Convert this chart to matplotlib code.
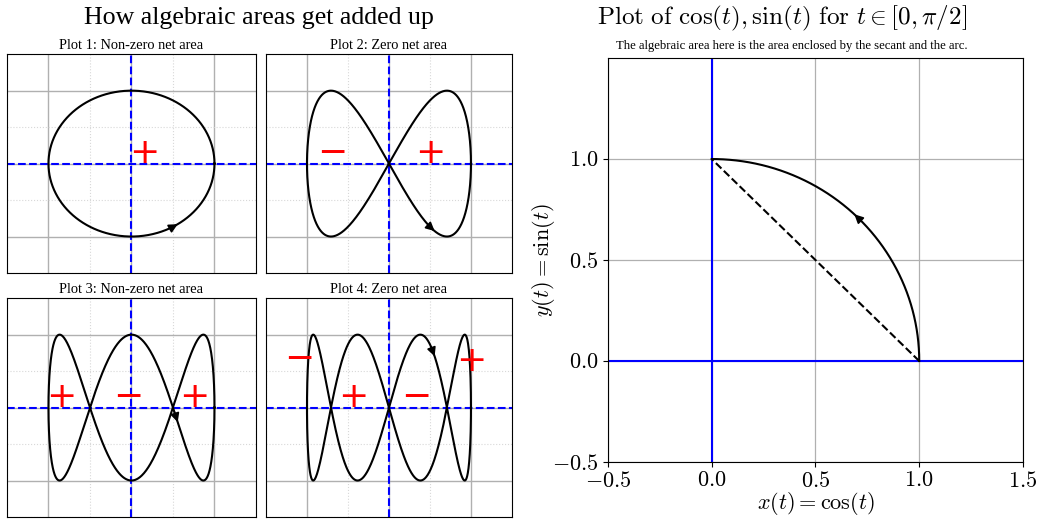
import numpy as np
import matplotlib
matplotlib.use("Agg")
import matplotlib.pyplot as plt
from matplotlib.ticker import MultipleLocator

plt.rcParams['font.family'] = ['Liberation Serif', 'DejaVu Serif']
plt.rcParams['mathtext.fontset'] = 'cm'

# frequencies of y(t) = sin(k t) against x(t) = cos(t)
freqs = [1, 2, 3, 4]
titles = ["Plot 1: Non-zero net area", "Plot 2: Zero net area",
          "Plot 3: Non-zero net area", "Plot 4: Zero net area"]

# sign labels for the loops in each small plot
sign_x = [[0.16], [-0.69, 0.50], [-0.85, -0.04, 0.76], [-1.09, -0.44, 0.33, 1.01]]
sign_y = [[0.15], [0.15, 0.15], [0.14, 0.14, 0.14], [0.66, 0.14, 0.14, 0.64]]
sign_txt = [["+"], ["\u2212", "+"], ["+", "\u2212", "+"], ["\u2212", "+", "\u2212", "+"]]

# fraction of the period where the direction arrow sits
arrow_frac = 5 / 6

# quarter circle plot
arc_t = np.linspace(0, np.pi / 2, 200)
secant_x = [1.0, 0.0]
secant_y = [0.0, 1.0]
right_xticks = [-0.5, 0.0, 0.5, 1.0, 1.5]
right_yticks = [-0.5, 0.0, 0.5, 1.0]

fig = plt.figure(figsize=(10.41, 5.21), dpi=100)

small_pos = [
    [0.0067, 0.476, 0.2392, 0.420],
    [0.2555, 0.476, 0.2363, 0.420],
    [0.0067, 0.0077, 0.2392, 0.420],
    [0.2555, 0.0077, 0.2363, 0.420],
]

t = np.linspace(0, 2 * np.pi, 1200)
for k, pos, title, sx, sy, st in zip(freqs, small_pos, titles, sign_x, sign_y, sign_txt):
    ax = fig.add_axes(pos)
    x = np.cos(t)
    y = np.sin(k * t)
    ax.plot(x, y, color='k', lw=1.5, zorder=3)
    i = int(len(t) * arrow_frac)
    ax.annotate('', xy=(x[i + 12], y[i + 12]), xytext=(x[i + 2], y[i + 2]),
                arrowprops=dict(arrowstyle='-|>', color='k', lw=1.2,
                                mutation_scale=13, shrinkA=0, shrinkB=0),
                zorder=4)
    ax.axhline(0, color='b', ls='--', lw=1.5, zorder=2)
    ax.axvline(0, color='b', ls='--', lw=1.5, zorder=2)
    for px, py, s in zip(sx, sy, st):
        ax.text(px, py, s, color='r', fontsize=26, family='DejaVu Sans',
                ha='center', va='center', zorder=5)
    ax.set_xlim(-1.5, 1.5)
    ax.set_ylim(-1.5, 1.5)
    ax.xaxis.set_major_locator(MultipleLocator(1))
    ax.yaxis.set_major_locator(MultipleLocator(1))
    ax.xaxis.set_minor_locator(MultipleLocator(0.5))
    ax.yaxis.set_minor_locator(MultipleLocator(0.5))
    ax.grid(True, which='major', color='#b0b0b0', lw=1.0)
    ax.grid(True, which='minor', color='#d8d8d8', ls=':', lw=0.8)
    ax.tick_params(which='both', length=0, labelbottom=False, labelleft=False)
    ax.set_title(title, fontsize=10.4, pad=4)

fig.text(0.249, 0.965, "How algebraic areas get added up", fontsize=18.6,
         ha='center', va='center')

ax = fig.add_axes([0.584, 0.1132, 0.3987, 0.7754])
ax.plot(np.cos(arc_t), np.sin(arc_t), color='k', lw=1.5, zorder=3)
j = len(arc_t) // 2
ax.annotate('', xy=(np.cos(arc_t[j + 3]), np.sin(arc_t[j + 3])),
            xytext=(np.cos(arc_t[j - 2]), np.sin(arc_t[j - 2])),
            arrowprops=dict(arrowstyle='-|>', color='k', lw=1.2,
                            mutation_scale=13, shrinkA=0, shrinkB=0),
            zorder=4)
ax.plot(secant_x, secant_y, color='k', ls='--', lw=1.5, zorder=3)
ax.axhline(0, color='b', lw=1.5, zorder=2)
ax.axvline(0, color='b', lw=1.5, zorder=2)
ax.set_xlim(-0.5, 1.5)
ax.set_ylim(-0.5, 1.5)
ax.set_xticks(right_xticks)
ax.set_yticks(right_yticks)
ax.set_xticklabels([f'${v:.1f}$' for v in right_xticks], fontsize=16)
ax.set_yticklabels([f'${v:.1f}$' for v in right_yticks], fontsize=16)
ax.grid(True, color='#b0b0b0', lw=0.9)
ax.set_xlabel(r'$x(t) = \cos(t)$', fontsize=16, labelpad=-1)
ax.set_ylabel(r'$y(t) = \sin(t)$', fontsize=16, labelpad=-4)

fig.text(0.751, 0.965,
         r'$\mathrm{Plot\ of\ }\cos(t), \sin(t)\mathrm{\ for\ }t \in [0, \pi/2]$',
         fontsize=18.1, ha='center', va='center')
fig.text(0.761, 0.911,
         "The algebraic area here is the area enclosed by the secant and the arc.",
         fontsize=9.1, ha='center', va='center')

fig.savefig("out.png", dpi=100)
